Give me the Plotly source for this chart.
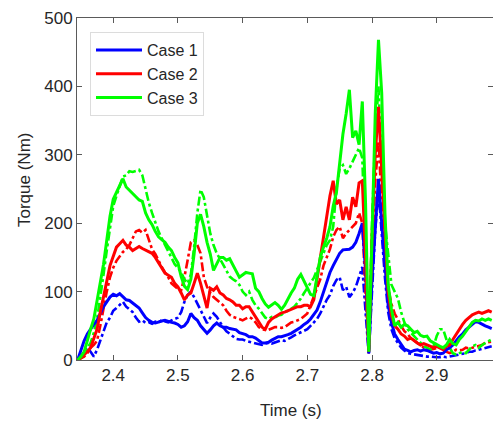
import numpy as np
import plotly.graph_objects as go

# Time grid (s): 2.345 ... 2.985, step 0.005 (129 samples)
t_start, t_step, n_pts = 2.345, 0.005, 129
time = [round(t_start + t_step * i, 3) for i in range(n_pts)]

# Case 1 (blue)
case1_solid = [
    0, 15, 28, 38, 46, 52, 58, 68, 78, 85,
    92, 96, 94, 97, 92, 88, 87, 83, 80, 76,
    69, 62, 58, 55, 54, 56, 57, 58, 56, 55,
    54, 52, 48, 50, 56, 68, 62, 58, 50, 44,
    39, 44, 50, 54, 50, 48, 48, 46, 45, 44,
    40, 39, 37, 34, 34, 32, 28, 25, 25, 26,
    29, 32, 34, 34, 35, 37, 39, 42, 44, 48,
    52, 55, 60, 66, 73, 85, 100, 115, 128, 138,
    148, 156, 161, 161, 162, 165, 172, 185, 200, 130,
    10, 120, 200, 265, 200, 140, 80, 55, 38, 30,
    22, 16, 14, 12, 14, 15, 13, 15, 14, 12,
    10, 11, 9, 10, 15, 18, 22, 28, 34, 38,
    44, 48, 52, 56, 55, 52, 50, 48, 46,
]
case1_dash = [
    0, 5, 12, 18, 12, 5, 15, 28, 40, 55,
    62, 72, 76, 80, 85, 78, 74, 70, 62, 56,
    58, 54, 55, 53, 56, 55, 58, 57, 55, 58,
    60, 62, 70, 85, 95, 100, 92, 83, 72, 63,
    54, 62, 68, 63, 55, 48, 42, 38, 34, 31,
    30, 30, 28, 27, 26, 25, 23, 22, 24, 25,
    24, 26, 28, 29, 28, 30, 33, 36, 38, 40,
    43, 45, 50, 55, 60, 68, 78, 88, 95, 108,
    117, 121, 102, 107, 92, 98, 107, 120, 136, 70,
    8, 100, 190, 250, 180, 120, 70, 45, 32, 25,
    18, 14, 10, 9, 8, 7, 6, 5, 5, 5,
    4, 4, 4, 5, 4, 5, 6, 6, 7, 8,
    10, 12, 12, 14, 15, 17, 18, 19, 20,
]

# Case 2 (red)
case2_solid = [
    0, 3, 8, 12, 18, 30, 45, 70, 95, 115,
    138, 150, 165, 170, 175, 168, 165, 160, 163, 166,
    163, 161, 158, 156, 150, 142, 135, 127, 124, 121,
    112, 107, 98, 88, 95, 98, 112, 127, 112, 92,
    76, 105, 102, 107, 98, 95, 90, 88, 85, 80,
    80, 75, 78, 78, 70, 63, 55, 48, 45, 55,
    60, 63, 66, 69, 70, 72, 74, 76, 78, 78,
    80, 80, 78, 88, 118, 150, 180, 215, 240, 262,
    228, 234, 205, 224, 205, 238, 224, 259, 262, 150,
    12, 180, 300, 370, 280, 190, 100, 65, 50, 45,
    38, 35, 30, 32, 28, 25, 22, 24, 22, 20,
    18, 20, 18, 15, 20, 22, 30, 38, 45, 52,
    58, 62, 66, 68, 70, 68, 70, 72, 70,
]
case2_dash = [
    0, 2, 5, 10, 18, 22, 28, 50, 78, 100,
    121, 135, 145, 152, 158, 162, 168, 178, 188, 190,
    186, 190, 175, 162, 155, 145, 136, 128, 121, 112,
    108, 104, 102, 121, 146, 172, 175, 168, 156, 121,
    107, 98, 92, 88, 83, 80, 72, 66, 63, 62,
    60, 58, 60, 63, 60, 55, 48, 45, 44, 44,
    46, 48, 48, 47, 48, 52, 55, 56, 58, 60,
    64, 68, 80, 92, 105, 118, 138, 150, 162, 180,
    190, 195, 178, 185, 190, 195, 200, 215, 200, 100,
    10, 150, 260, 320, 230, 140, 105, 82, 68, 58,
    50, 42, 38, 32, 28, 25, 22, 18, 16, 15,
    16, 18, 19, 14, 12, 10, 12, 15, 14, 15,
    18, 17, 18, 19, 20, 22, 25, 26, 27,
]

# Case 3 (green)
case3_solid = [
    0, 5, 12, 30, 45, 60, 85, 110, 140, 175,
    210, 235, 245, 255, 265, 253, 248, 244, 238, 234,
    232, 215, 205, 198, 188, 180, 176, 172, 165, 160,
    150, 142, 122, 108, 103, 118, 155, 200, 213, 195,
    172, 155, 131, 140, 150, 150, 146, 148, 140, 130,
    121, 125, 128, 127, 126, 105, 100, 90, 82, 77,
    80, 84, 80, 74, 80, 90, 98, 105, 118, 125,
    115, 105, 96, 94, 125, 150, 165, 178, 195, 225,
    245, 290, 330, 360, 395, 325, 335, 315, 378, 230,
    12, 180, 360, 468, 390, 215, 110, 75, 50, 55,
    48, 52, 50, 45, 40, 42, 36, 34, 35, 28,
    25, 22, 20, 18, 22, 30, 24, 22, 30, 35,
    42, 48, 55, 58, 57, 60, 58, 60, 58,
]
case3_dash = [
    0, 3, 8, 18, 25, 40, 60, 90, 125, 160,
    195, 225, 240, 255, 268, 270, 276, 275, 276, 278,
    270, 250, 230, 215, 200, 188, 178, 168, 158, 150,
    140, 135, 128, 118, 112, 125, 165, 215, 249, 238,
    210, 185, 168, 156, 148, 140, 130, 122, 118, 115,
    110, 100, 95, 100, 88, 80, 75, 68, 62, 60,
    63, 62, 65, 66, 70, 72, 75, 78, 84, 90,
    98, 105, 112, 120, 132, 145, 158, 168, 175, 195,
    250, 280, 285, 272, 280, 290, 300, 310, 295, 150,
    12, 200, 330, 400, 280, 200, 150, 110, 100, 90,
    70, 55, 45, 40, 35, 30, 25, 20, 18, 15,
    20, 35, 45, 45, 30, 18, 10, 8, 10, 12,
    10, 15, 20, 22, 18, 22, 25, 28, 30,
]

case_names = ["Case 1", "Case 2", "Case 3"]
case_colors = ["#0000FF", "#FF0000", "#00FF00"]
solid_series = [case1_solid, case2_solid, case3_solid]
dash_series = [case1_dash, case2_dash, case3_dash]

x_ticks = [2.4, 2.5, 2.6, 2.7, 2.8, 2.9]
x_ticklabels = ["2.4", "2.5", "2.6", "2.7", "2.8", "2.9"]
y_ticks = [0, 100, 200, 300, 400, 500]
y_ticklabels = ["0", "100", "200", "300", "400", "500"]

FONT = "Liberation Sans, Arial, sans-serif"
TXT = "#262626"
W, H = 493, 423
ML, MR, MT, MB = 77, 0, 18, 63
PW, PH = W - ML - MR, H - MT - MB


def px_to_paper(px, py):
    return (px - ML) / PW, 1 - (py - MT) / PH


fig = go.Figure()
for vals, col in zip(dash_series, case_colors):
    fig.add_trace(go.Scatter(x=time[:len(vals)], y=vals, mode="lines",
                             line=dict(color=col, width=2.6, dash="dashdot"),
                             showlegend=False, hoverinfo="skip"))
for vals, col, name in zip(solid_series, case_colors, case_names):
    fig.add_trace(go.Scatter(x=time[:len(vals)], y=vals, mode="lines", name=name,
                             line=dict(color=col, width=3)))

axis_common = dict(showline=True, linecolor="#5a5a5a", linewidth=1, mirror="ticks",
                   ticks="inside", ticklen=5, tickcolor="#5a5a5a", showgrid=False,
                   zeroline=False, automargin=False,
                   tickfont=dict(family=FONT, size=17, color=TXT))

xt_x, xt_y = px_to_paper(291, 410)
yt_x, yt_y = px_to_paper(25, 180)
lg_x, lg_y = px_to_paper(90, 32)

fig.update_layout(
    width=W, height=H,
    margin=dict(l=ML, r=MR, t=MT, b=MB, autoexpand=False),
    paper_bgcolor="white", plot_bgcolor="white",
    font=dict(family=FONT, size=17, color=TXT),
    xaxis=dict(range=[2.344, 2.987], tickvals=x_ticks, ticktext=x_ticklabels, **axis_common),
    yaxis=dict(range=[0, 500], tickvals=y_ticks, ticktext=y_ticklabels, **axis_common),
    legend=dict(x=lg_x, y=lg_y, xanchor="left", yanchor="top",
                bgcolor="white", bordercolor="#dcdcdc", borderwidth=1,
                font=dict(family=FONT, size=16, color=TXT),
                itemwidth=46, tracegroupgap=0),
    annotations=[
        dict(text="Time (s)", x=xt_x, y=xt_y, xref="paper", yref="paper",
             xanchor="center", yanchor="middle", showarrow=False,
             font=dict(family=FONT, size=17, color=TXT)),
        dict(text="Torque (Nm)", x=yt_x, y=yt_y, xref="paper", yref="paper",
             xanchor="center", yanchor="middle", textangle=-90, showarrow=False,
             font=dict(family=FONT, size=17, color=TXT)),
    ],
)

fig.write_html(
    "out.html",
    config={"displayModeBar": False},
    post_script="document.body.style.margin='0px';document.body.style.overflow='hidden';",
)
